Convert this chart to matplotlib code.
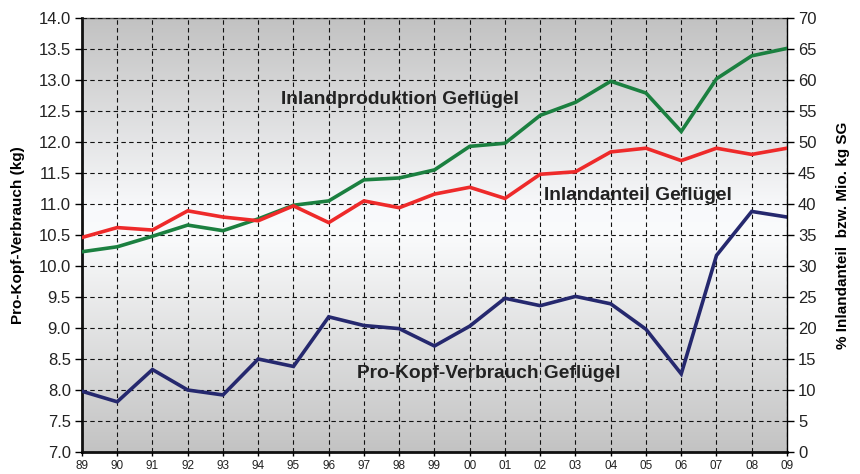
import numpy as np
import matplotlib
matplotlib.use("Agg")
import matplotlib.pyplot as plt
from matplotlib.colors import LinearSegmentedColormap

years = ["89", "90", "91", "92", "93", "94", "95", "96", "97", "98", "99",
         "00", "01", "02", "03", "04", "05", "06", "07", "08", "09"]
# Inlandproduktion Geflügel (Mio. kg SG, right axis)
produktion = [32.3, 33.1, 34.8, 36.6, 35.7, 37.6, 39.8, 40.5, 43.9, 44.2, 45.5,
              49.3, 49.8, 54.3, 56.4, 59.8, 57.9, 51.7, 60.2, 63.9, 65.1]
# Inlandanteil Geflügel (%, right axis)
anteil = [34.6, 36.2, 35.8, 38.9, 37.9, 37.3, 39.7, 37.0, 40.5, 39.4, 41.6,
          42.7, 40.9, 44.8, 45.2, 48.4, 49.0, 47.0, 49.0, 48.0, 49.0]
# Pro-Kopf-Verbrauch Geflügel (kg, left axis)
verbrauch = [7.98, 7.81, 8.33, 8.0, 7.92, 8.5, 8.38, 9.18, 9.04, 8.99, 8.71,
             9.03, 9.48, 9.36, 9.51, 9.39, 8.98, 8.26, 10.17, 10.88, 10.79]

plt.rcParams['font.family'] = ['Liberation Sans', 'DejaVu Sans']

fig = plt.figure(figsize=(8.6, 4.74), dpi=100)
ax = fig.add_axes([0.0953, 0.0464, 0.8198, 0.9156])
ax2 = ax.twinx()

x = np.arange(len(years))

# background gradient
cmap = LinearSegmentedColormap.from_list("bg", [
    (0.0, "#c3c3c3"), (0.5, "#fafbfc"), (0.56, "#f8f9fb"), (1.0, "#c2c2c2")])
grad = np.linspace(0, 1, 256).reshape(-1, 1)
ax.imshow(grad, aspect='auto', cmap=cmap, origin='lower',
          extent=[0, len(years) - 1, 7.0, 14.0], zorder=0)

ax.set_xlim(0, len(years) - 1)
ax.set_ylim(7.0, 14.0)
ax2.set_ylim(0, 70)

ax.set_yticks(np.arange(7.0, 14.01, 0.5))
ax.set_yticklabels([f"{v:.1f}" for v in np.arange(7.0, 14.01, 0.5)], fontsize=12, color="#222222")
ax2.set_yticks(np.arange(0, 71, 5))
ax2.set_yticklabels([str(v) for v in range(0, 71, 5)], fontsize=12, color="#222222")
ax.set_xticks(x)
ax.set_xticklabels(years, fontsize=8.5, color="#222222")

ax.grid(True, which='major', color='#111111', linestyle=(0, (4, 3)), linewidth=0.8)
ax.set_axisbelow(False)

ax.tick_params(axis='y', direction='out', length=5, width=1, pad=3)
ax.tick_params(axis='x', direction='out', length=3, width=1, pad=3)
ax2.tick_params(axis='y', direction='out', length=5, width=1, pad=3)

for s in ['left', 'bottom']:
    ax.spines[s].set_linewidth(2)
    ax.spines[s].set_color('#111111')
ax.spines['top'].set_color('#555555')
ax.spines['top'].set_linewidth(1)
ax2.spines['right'].set_linewidth(1)
ax2.spines['left'].set_visible(False)
ax2.spines['top'].set_visible(False)
ax2.spines['bottom'].set_visible(False)
ax.spines['right'].set_visible(False)

ax2.plot(x, produktion, color="#1b8040", linewidth=2.6, zorder=5, solid_joinstyle='miter')
ax2.plot(x, anteil, color="#ee2a2a", linewidth=2.6, zorder=5, solid_joinstyle='miter')
ax.plot(x, verbrauch, color="#25286e", linewidth=2.6, zorder=5, solid_joinstyle='miter')

ax.set_ylabel("Pro-Kopf-Verbrauch (kg)", fontsize=11, fontweight='bold', labelpad=10)
ax2.set_ylabel("% Inlandanteil  bzw. Mio. kg SG", fontsize=11, fontweight='bold', labelpad=14)

ax2.text(9.03, 12.69 * 10 - 70, "Inlandproduktion Geflügel", fontsize=13.8, fontweight='bold',
         color="#222222", ha='center', va='center', zorder=6)
ax2.text(15.76, 11.13 * 10 - 70, "Inlandanteil Geflügel", fontsize=13.8, fontweight='bold',
         color="#222222", ha='center', va='center', zorder=6)
ax2.text(11.53, 8.27 * 10 - 70, "Pro-Kopf-Verbrauch Geflügel", fontsize=13.8, fontweight='bold',
         color="#222222", ha='center', va='center', zorder=6)

fig.savefig("out.png", dpi=100)
